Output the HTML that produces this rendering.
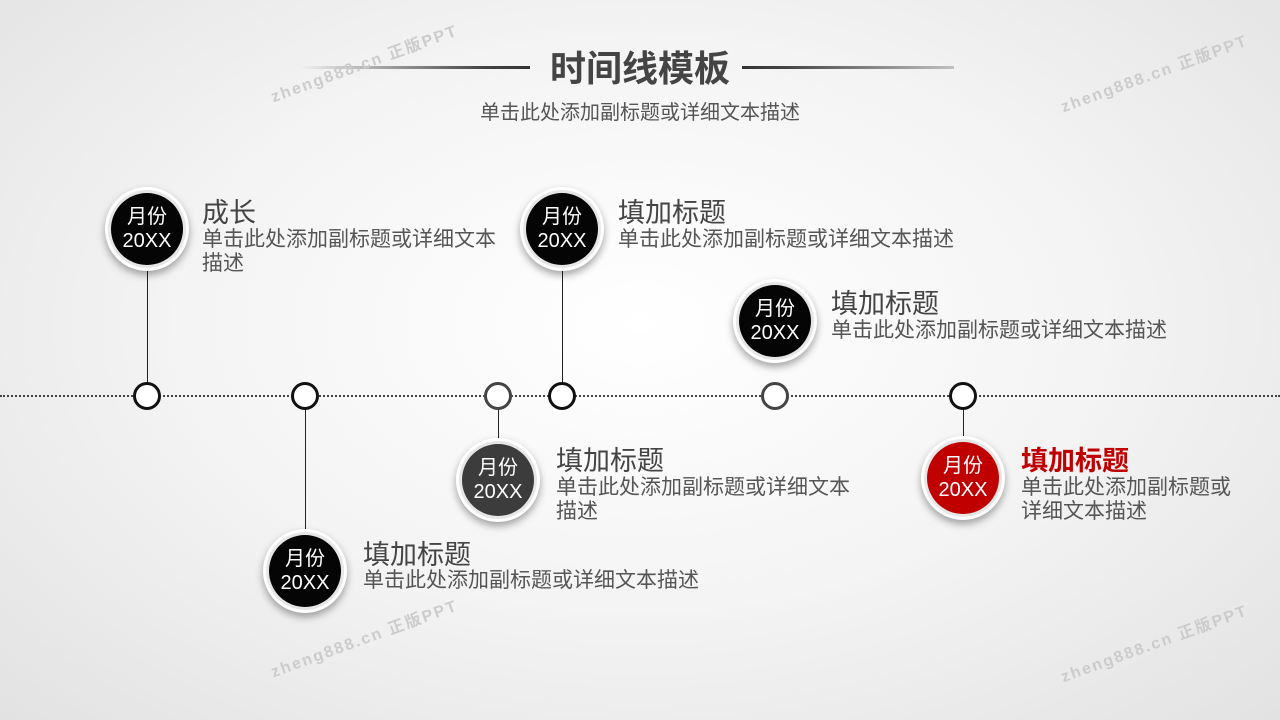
<!DOCTYPE html>
<html><head><meta charset="utf-8"><style>
body{margin:0;width:1280px;height:720px;overflow:hidden;position:relative;
background:radial-gradient(ellipse at 50% 45%,#ffffff 0%,#f4f4f4 50%,#e2e2e2 100%);
font-family:"Liberation Sans","Noto Sans CJK SC",sans-serif;}
.a{position:absolute}
.big{position:absolute;width:74px;height:74px;border-radius:50%;background:#fff;border:5px solid #fff;
box-shadow:0 4px 8px rgba(0,0,0,.35);}
.big .in{position:absolute;left:1px;top:1px;width:72px;height:72px;border-radius:50%;background:#050505;color:#fff;
text-align:center;font-size:20px;line-height:24px;padding-top:12px;box-sizing:border-box;box-shadow:0 0 0 3px #e6e6e6}
.sm{position:absolute;width:22px;height:22px;border-radius:50%;background:#fff;border:3px solid #111;}
.v{position:absolute;width:1px;background:#222}
.t{position:absolute;color:#444;font-size:27px;line-height:28px;white-space:nowrap}
.d{position:absolute;color:#555;font-size:21px;line-height:24px;white-space:nowrap}
.wm{position:absolute;color:#ccc;font-size:16px;font-weight:bold;letter-spacing:2px;transform:rotate(-20deg);white-space:nowrap}
</style></head><body>
<div class="a" style="left:0;top:395px;width:1280px;border-top:2px dotted #444"></div>

<div class="a" style="left:300px;top:66px;width:230px;height:3px;background:linear-gradient(90deg,rgba(80,80,80,0),#444 80%,#333)"></div>
<div class="a" style="left:742px;top:66px;width:212px;height:3px;background:linear-gradient(90deg,#333,#444 20%,rgba(80,80,80,0.3))"></div>
<div class="a" style="left:530px;top:48px;width:220px;text-align:center;font-size:36px;font-weight:bold;color:#444;line-height:42px">时间线模板</div>
<div class="a" style="left:400px;top:96px;width:480px;text-align:center;font-size:20px;color:#555">单击此处添加副标题或详细文本描述</div>

<div class="wm" style="left:265px;top:50px">zheng888.cn 正版PPT</div>
<div class="wm" style="left:1055px;top:60px">zheng888.cn 正版PPT</div>
<div class="wm" style="left:265px;top:625px">zheng888.cn 正版PPT</div>
<div class="wm" style="left:1055px;top:630px">zheng888.cn 正版PPT</div>

<div class="v" style="left:147px;top:265px;height:120px"></div>
<div class="v" style="left:305px;top:408px;height:125px"></div>
<div class="v" style="left:498px;top:408px;height:32px"></div>
<div class="v" style="left:562px;top:265px;height:120px"></div>
<div class="v" style="left:963px;top:408px;height:32px"></div>

<div class="sm" style="left:133px;top:382px"></div>
<div class="sm" style="left:291px;top:382px"></div>
<div class="sm" style="left:484px;top:382px;border-color:#444"></div>
<div class="sm" style="left:548px;top:382px"></div>
<div class="sm" style="left:761px;top:382px;border-color:#444"></div>
<div class="sm" style="left:949px;top:382px"></div>

<div class="big" style="left:105px;top:187px"><div class="in">月份<br>20XX</div></div>
<div class="big" style="left:263px;top:529px"><div class="in">月份<br>20XX</div></div>
<div class="big" style="left:456px;top:438px"><div class="in" style="background:#3c3c3c">月份<br>20XX</div></div>
<div class="big" style="left:520px;top:187px"><div class="in">月份<br>20XX</div></div>
<div class="big" style="left:733px;top:279px"><div class="in">月份<br>20XX</div></div>
<div class="big" style="left:921px;top:436px"><div class="in" style="background:#c00000">月份<br>20XX</div></div>

<div class="t" style="left:202px;top:199px">成长</div>
<div class="d" style="left:202px;top:228px">单击此处添加副标题或详细文本<br>描述</div>
<div class="t" style="left:618px;top:199px">填加标题</div>
<div class="d" style="left:618px;top:228px">单击此处添加副标题或详细文本描述</div>
<div class="t" style="left:831px;top:290px">填加标题</div>
<div class="d" style="left:831px;top:319px">单击此处添加副标题或详细文本描述</div>
<div class="t" style="left:556px;top:447px">填加标题</div>
<div class="d" style="left:556px;top:476px">单击此处添加副标题或详细文本<br>描述</div>
<div class="t" style="left:363px;top:541px">填加标题</div>
<div class="d" style="left:363px;top:569px">单击此处添加副标题或详细文本描述</div>
<div class="t" style="left:1021px;top:447px;color:#c00000;font-weight:bold">填加标题</div>
<div class="d" style="left:1021px;top:476px">单击此处添加副标题或<br>详细文本描述</div>
</body></html>
